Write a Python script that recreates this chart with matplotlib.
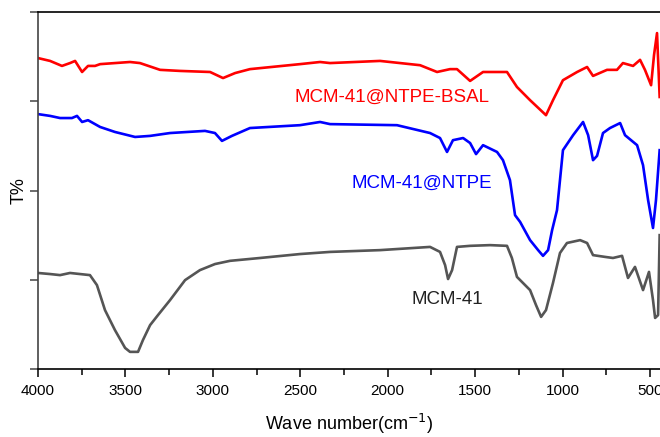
import matplotlib.pyplot as plt
from matplotlib.ticker import MultipleLocator

plt.rcParams['font.family'] = ['Liberation Sans', 'DejaVu Sans']

# MCM-41 (gray)
wn_mcm = [4000, 3931, 3874, 3817, 3760, 3703, 3663, 3617, 3560, 3502, 3474, 3428,
          3400, 3359, 3314, 3245, 3159, 3074, 2988, 2902, 2730, 2502, 2330, 2044,
          1758, 1701, 1672, 1655, 1632, 1604, 1529, 1415, 1318, 1290, 1261, 1186,
          1152, 1123, 1095, 1055, 1015, 975, 900, 860, 826, 757, 712, 660, 626,
          586, 540, 506, 483, 471, 454, 445]
t_mcm = [26.9, 26.6, 26.3, 26.9, 26.6, 26.3, 23.5, 16.5, 10.9, 5.9, 4.8, 4.8,
         8.1, 12.3, 15.1, 19.3, 24.9, 27.7, 29.4, 30.3, 31.1, 32.2, 32.8, 33.3,
         34.2, 32.8, 29.1, 25.2, 27.7, 34.2, 34.5, 34.7, 34.5, 31.1, 25.8, 22.1,
         17.9, 14.6, 16.5, 24.1, 32.5, 35.3, 36.1, 35.3, 31.9, 31.4, 31.1, 31.7, 25.5,
         28.6, 22.1, 27.2, 19.3, 14.3, 15.1, 37.5]

# MCM-41@NTPE (blue)
wn_ntpe = [4000, 3931, 3874, 3806, 3777, 3748, 3714, 3645, 3560, 3445, 3359, 3245,
           3045, 2988, 2948, 2891, 2788, 2502, 2387, 2330, 1947, 1758, 1701, 1661,
           1627, 1569, 1529, 1495, 1455, 1375, 1341, 1301, 1272, 1243, 1186, 1140,
           1112, 1083, 1060, 1032, 1015, 998, 940, 883, 854, 826, 803, 769, 729,
           671, 643, 574, 540, 511, 483, 466, 445]
t_ntpe = [71.4, 70.9, 70.3, 70.3, 70.9, 69.2, 69.7, 67.8, 66.4, 65.0, 65.3, 66.1,
          66.7, 66.1, 63.9, 65.3, 67.5, 68.3, 69.2, 68.6, 68.3, 66.1, 64.7, 60.8,
          64.1, 64.7, 63.3, 60.2, 62.7, 60.8, 58.5, 52.9, 43.1, 41.2, 36.1, 33.3,
          31.7, 33.3, 38.9, 44.5, 52.9, 61.3, 65.5, 69.2, 65.5, 58.5, 59.7, 66.1, 67.5,
          68.9, 65.5, 62.7, 57.1, 47.3, 39.5, 47.3, 61.3]

# MCM-41@NTPE-BSAL (red)
wn_bsal = [4000, 3931, 3863, 3817, 3788, 3748, 3714, 3674, 3645, 3474, 3417, 3302,
           3188, 3016, 2942, 2873, 2788, 2502, 2387, 2330, 2044, 1815, 1718, 1644,
           1604, 1529, 1455, 1318, 1261, 1186, 1095, 1055, 998, 917, 860, 826, 746,
           689, 655, 597, 557, 529, 494, 477, 460, 445]
t_bsal = [87.1, 86.3, 84.9, 85.7, 86.3, 83.2, 84.9, 84.9, 85.4, 86.0, 85.7, 83.8,
          83.5, 83.2, 81.5, 82.9, 84.0, 85.4, 86.0, 85.7, 86.3, 85.1, 83.2, 84.0,
          84.0, 80.7, 83.2, 83.2, 79.0, 75.3, 71.1, 75.3, 80.9, 83.2, 84.6, 82.1, 83.8,
          83.8, 85.7, 84.9, 86.6, 83.8, 79.5, 88.0, 94.1, 76.2]

fig = plt.figure(figsize=(6.6, 4.37), dpi=100)
ax = fig.add_axes([0.0576, 0.1556, 0.9424, 0.8169])

ax.plot(wn_mcm, t_mcm, color='#555555', lw=1.9)
ax.plot(wn_ntpe, t_ntpe, color='#0000ff', lw=1.9)
ax.plot(wn_bsal, t_bsal, color='#ff0000', lw=1.9)

ax.text(1975, 76.2, 'MCM-41@NTPE-BSAL', color='#ff0000', fontsize=13.5,
        ha='center', va='center')
ax.text(1804, 52.1, 'MCM-41@NTPE', color='#0000ff', fontsize=13.5,
        ha='center', va='center')
ax.text(1661, 19.5, 'MCM-41', color='#222222', fontsize=13.5,
        ha='center', va='center')

ax.set_xlim(4000, 443)
ax.set_ylim(0, 100)
ax.xaxis.set_major_locator(MultipleLocator(500))
ax.xaxis.set_minor_locator(MultipleLocator(250))
ax.yaxis.set_major_locator(MultipleLocator(25))
ax.set_yticklabels([])
ax.tick_params(axis='x', which='major', direction='out', length=6, width=1.1,
               labelsize=11, pad=5)
ax.tick_params(axis='x', which='minor', direction='out', length=4, width=1.1)
ax.tick_params(axis='y', which='major', direction='out', length=6, width=1.1,
               color='#444444')

ax.spines['right'].set_visible(False)
ax.spines['left'].set_color('#444444')
for s in ['left', 'bottom', 'top']:
    ax.spines[s].set_linewidth(1.2)

ax.set_xlabel('Wave number(cm$^{-1}$)', fontsize=13, labelpad=10)
ax.set_ylabel('T%', fontsize=13)
ax.yaxis.set_label_coords(-0.017, 0.5)

fig.savefig('out.png', dpi=100)
